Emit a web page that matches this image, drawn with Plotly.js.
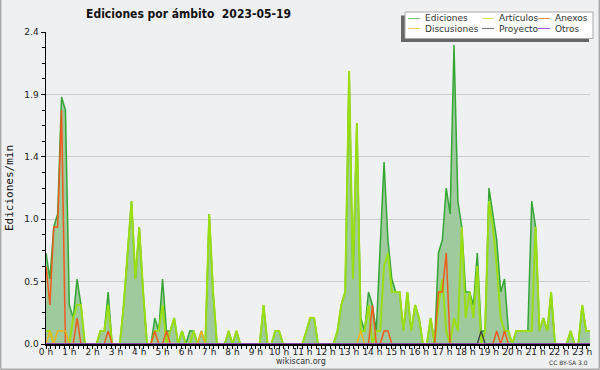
<!DOCTYPE html>
<html><head><meta charset="utf-8">
<script src="https://cdn.plot.ly/plotly-3.0.1.min.js"></script>
<style>html,body{margin:0;padding:0;background:#eff0f2;} #chart{width:600px;height:370px;}</style>
</head><body><div id="chart"></div>
<script>
// 10-minute bins, edits per minute
const binsPerHour = 6;
const ediciones = [
 0.7,0.5,0.9,1.0,1.9,1.8,0.3,0.2,0.5,0.3,0,0,
 0,0,0.1,0.1,0.4,0,0,0,0.3,0.7,1.1,0.5,
 0.9,0.4,0,0,0.2,0.1,0.5,0.1,0.1,0.2,0,0.1,
 0,0.1,0.1,0,0.1,0,1.0,0.4,0,0,0,0.1,
 0,0.1,0,0,0,0,0,0,0.3,0,0,0.1,
 0.1,0,0,0,0,0,0,0.1,0.2,0.2,0,0,
 0,0,0,0.1,0.3,0.4,2.1,0.5,1.7,0.2,0.1,0.4,
 0.3,0.1,0.7,1.4,0.8,0.5,0.4,0.4,0.1,0.4,0.1,0.3,
 0.2,0,0,0.2,0,0.7,0.8,1.2,1.0,2.3,1.1,0.9,
 0.4,0.4,0.3,0.7,0.1,0.1,1.2,1.0,0.8,0.4,0.5,0.1,
 0,0.1,0.1,0.1,0.1,1.1,0.9,0.1,0.2,0.1,0.4,0,
 0,0,0,0.1,0,0,0.3,0.1,0.1
];
const articulos = [
 0.1,0.1,0,0,0,0,0,0.2,0.3,0.3,0,0,
 0,0,0.1,0.1,0.3,0,0,0,0.3,0.7,1.1,0.5,
 0.9,0.4,0,0,0.1,0.1,0.3,0,0.1,0.2,0,0.1,
 0,0,0.1,0,0,0,1.0,0.4,0,0,0,0.1,
 0,0.1,0,0,0,0,0,0,0.3,0,0,0.1,
 0.1,0,0,0,0,0,0,0.1,0.2,0.2,0,0,
 0,0,0,0.1,0.3,0.4,2.1,0.5,1.7,0.1,0.1,0.3,
 0,0.1,0.1,0.6,0.7,0.4,0.4,0.4,0.1,0.4,0.1,0.3,
 0.2,0,0,0.2,0,0.3,0.5,0.1,0,0.2,0.1,0.9,
 0.2,0.4,0.2,0.6,0,0.1,1.1,0.9,0.6,0.2,0.1,0.1,
 0,0.1,0.1,0.1,0.1,0.1,0.9,0.1,0.2,0.1,0.4,0,
 0,0,0,0.1,0,0,0.3,0.1,0.1
];
const anexos = [
 0.6,0.3,0.9,0.9,1.8,0,0,0,0.2,0,0,0,
 0,0,0,0,0.1,0,0,0,0,0,0,0,
 0,0,0,0,0.1,0,0,0.1,0,0,0,0,
 0,0,0,0,0,0,0,0,0,0,0,0,
 0,0,0,0,0,0,0,0,0,0,0,0,
 0,0,0,0,0,0,0,0,0,0,0,0,
 0,0,0,0,0,0,0,0,0,0,0,0,
 0.3,0,0,0.1,0.1,0,0,0,0,0,0,0,
 0,0,0,0,0,0.4,0.4,0.7,0,0,0,0,
 0,0,0,0,0,0,0,0,0.1,0,0.1,0,
 0,0,0,0,0,0,0,0,0,0,0,0,
 0,0,0,0,0,0,0,0,0
];
const discusiones = [
 0,0.1,0,0.1,0.1,0.1,0,0,0,0,0,0,
 0,0,0,0,0,0,0,0,0,0,0,0,
 0,0,0,0,0,0,0,0,0,0,0,0,
 0,0,0,0,0.1,0,0,0,0,0,0,0,
 0,0,0,0,0,0,0,0,0,0,0,0,
 0,0,0,0,0,0,0,0,0,0,0,0,
 0,0,0,0,0,0,0,0,0,0.1,0,0,
 0,0,0,0,0,0,0,0,0,0,0,0,
 0,0,0,0,0,0,0,0,0,0,0,0,
 0,0,0,0,0,0,0,0,0,0,0,0,
 0,0,0,0,0,0,0,0,0,0,0,0,
 0,0,0,0,0,0,0,0,0
];
const proyecto = [
 0,0,0,0,0,0,0,0,0,0,0,0,
 0,0,0,0,0,0,0,0,0,0,0,0,
 0,0,0,0,0,0,0,0,0,0,0,0,
 0,0,0,0,0,0,0,0,0,0,0,0,
 0,0,0,0,0,0,0,0,0,0,0,0,
 0,0,0,0,0,0,0,0,0,0,0,0,
 0,0,0,0,0,0,0,0,0,0,0,0,
 0,0,0,0,0,0,0,0,0,0,0,0,
 0,0,0,0,0,0,0,0,0,0,0,0,
 0,0,0,0,0.1,0,0,0,0,0,0,0,
 0,0,0,0,0,0,0,0,0,0,0,0,
 0,0,0,0,0,0,0,0,0
];
const otros = [
 0,0,0,0,0,0,0,0,0,0,0,0,
 0,0,0,0,0,0,0,0,0,0,0,0,
 0,0,0,0,0,0,0,0,0,0,0,0,
 0,0,0,0,0,0,0,0,0,0,0,0,
 0,0,0,0,0,0,0,0,0,0,0,0,
 0,0,0,0,0,0,0,0,0,0,0,0,
 0,0,0,0,0,0,0,0,0,0,0,0,
 0,0,0,0,0,0,0,0,0,0,0,0,
 0,0,0,0,0,0,0,0,0,0,0,0,
 0,0,0,0,0,0,0,0,0,0,0,0,
 0,0,0,0,0,0,0,0,0,0,0,0,
 0,0,0,0,0,0,0,0,0
];
const seriesNames = ['Ediciones','Artículos','Anexos','Discusiones','Proyecto','Otros'];
const yTickLabels = ['0.0','0.5','1.0','1.4','1.9','2.4'];
const hourSuffix = ' h';
const chartTitle = 'Ediciones por ámbito\u00a0 2023-05-19';
const yTitle = 'Ediciones/min';

const hours = ediciones.map((_, i) => i / binsPerHour);
const yMax = 2.4;
const yTickVals = yTickLabels.map((_, i) => i * yMax / (yTickLabels.length - 1));

const colors = ['rgb(52,166,52)', '#9ade12', '#f05a1e', '#f0b41c', '#3c3c3c', '#9a40e0'];
const legendColors = ['#7fc97f', '#c4ea55', '#f08a5a', '#f2cf5a', '#777777', '#a55ae8'];
const values = [ediciones, articulos, anexos, discusiones, proyecto, otros];
const widths = [1.5, 2, 1.5, 1.5, 1.3, 1.3];

const traces = values.map((v, k) => ({
  x: hours, y: v, type: 'scatter', mode: 'lines', name: seriesNames[k],
  line: {color: colors[k], width: widths[k]},
  fill: k === 0 ? 'tozeroy' : 'none',
  fillcolor: 'rgb(158,202,158)',
  hoverinfo: 'skip'
}));

// plot area geometry (px) for decorations
const L = 46, R = 10, T = 32, B = 26, W = 600, H = 370;
const pw = W - L - R, ph = H - T - B;
const px = x => (x - L) / pw;
const py = y => (H - B - y) / ph;

const shapes = [];
const annotations = [];
// outer border
shapes.push({type:'line', xref:'paper', yref:'paper', x0:px(0.7), x1:px(0.7), y0:py(0), y1:py(369.3), line:{color:'#aaaaaa', width:1.5}});
shapes.push({type:'line', xref:'paper', yref:'paper', x0:px(0.7), x1:px(599.3), y0:py(369.3), y1:py(369.3), line:{color:'#aaaaaa', width:1.5}});
shapes.push({type:'line', xref:'paper', yref:'paper', x0:px(599.3), x1:px(599.3), y0:py(0), y1:py(369.3), line:{color:'#aaaaaa', width:1.5}});
// legend box with shadow
shapes.push({type:'rect', xref:'paper', yref:'paper', x0:px(401), x1:px(589), y0:py(15.5), y1:py(42), fillcolor:'#666666', line:{width:0}});
shapes.push({type:'rect', xref:'paper', yref:'paper', x0:px(405), x1:px(593), y0:py(12), y1:py(38.5), fillcolor:'#ffffff', line:{color:'#aaaaaa', width:1}});
const colX = [408, 482, 538];
const rowY = [18.5, 28.5];
seriesNames.forEach((name, k) => {
  const c = k % 3, r = Math.floor(k / 3);
  const x0 = colX[c], yy = rowY[r];
  shapes.push({type:'line', xref:'paper', yref:'paper', x0:px(x0), x1:px(x0 + 12), y0:py(yy), y1:py(yy), line:{color:legendColors[k], width:1}});
  annotations.push({xref:'paper', yref:'paper', x:px(x0 + 14.5), y:py(yy), xanchor:'left', yanchor:'middle', showarrow:false, text:name, font:{family:'DejaVu Sans', size:9, color:'#333333'}});
});
annotations.push({xref:'paper', yref:'paper', x:px(300.5), y:py(361.5), xanchor:'center', yanchor:'middle', showarrow:false, text:'wikiscan.org', font:{family:'DejaVu Sans', size:8, color:'#333333'}});
annotations.push({xref:'paper', yref:'paper', x:px(590), y:py(362.5), xanchor:'right', yanchor:'middle', showarrow:false, text:'CC BY-SA 3.0', font:{family:'DejaVu Sans', size:6, color:'#333333'}});

const layout = {
  width: W, height: H,
  margin: {l: L, r: R, t: T, b: B, pad: 0},
  paper_bgcolor: '#eff0f2', plot_bgcolor: '#eff0f2',
  showlegend: false,
  title: {text: chartTitle, font: {family: 'DejaVu Sans Condensed, DejaVu Sans', size: 12, weight: 'bold', color: '#111111'},
          x: 188.5 / W, xref: 'container', xanchor: 'center', y: 1 - 14 / H, yref: 'container', yanchor: 'middle'},
  xaxis: {
    range: [0, hours[hours.length - 1]], tickmode: 'linear', tick0: 0, dtick: 1, ticksuffix: hourSuffix,
    ticks: 'outside', ticklen: 3, tickwidth: 1, tickcolor: '#000', ticklabelstandoff: -5,
    showline: true, linecolor: '#000', linewidth: 2, showgrid: false, zeroline: false,
    tickfont: {family: 'DejaVu Sans', size: 9, color: '#222'},
    minor: {dtick: 0.2, tick0: 0, ticks: 'outside', ticklen: 3, tickwidth: 1, tickcolor: '#000', showgrid: false},
    fixedrange: true
  },
  yaxis: {
    range: [0, yMax], tickmode: 'array', tickvals: yTickVals, ticktext: yTickLabels,
    ticks: 'outside', ticklen: 4, tickwidth: 1, tickcolor: '#000',
    showline: true, linecolor: '#000', linewidth: 1.5,
    showgrid: true, gridcolor: '#cbcbcb', gridwidth: 1, zeroline: false,
    tickfont: {family: 'DejaVu Sans', size: 9, color: '#222'},
    minor: {dtick: yMax / 20, tick0: 0, ticks: 'outside', ticklen: 3, tickwidth: 1, tickcolor: '#000', showgrid: false},
    title: {text: yTitle, font: {family: 'DejaVu Sans Mono', size: 11, color: '#111'}, standoff: 8},
    fixedrange: true
  },
  shapes: shapes,
  annotations: annotations
};

Plotly.newPlot('chart', traces, layout, {displayModeBar: false, staticPlot: true});
</script>
</body></html>
